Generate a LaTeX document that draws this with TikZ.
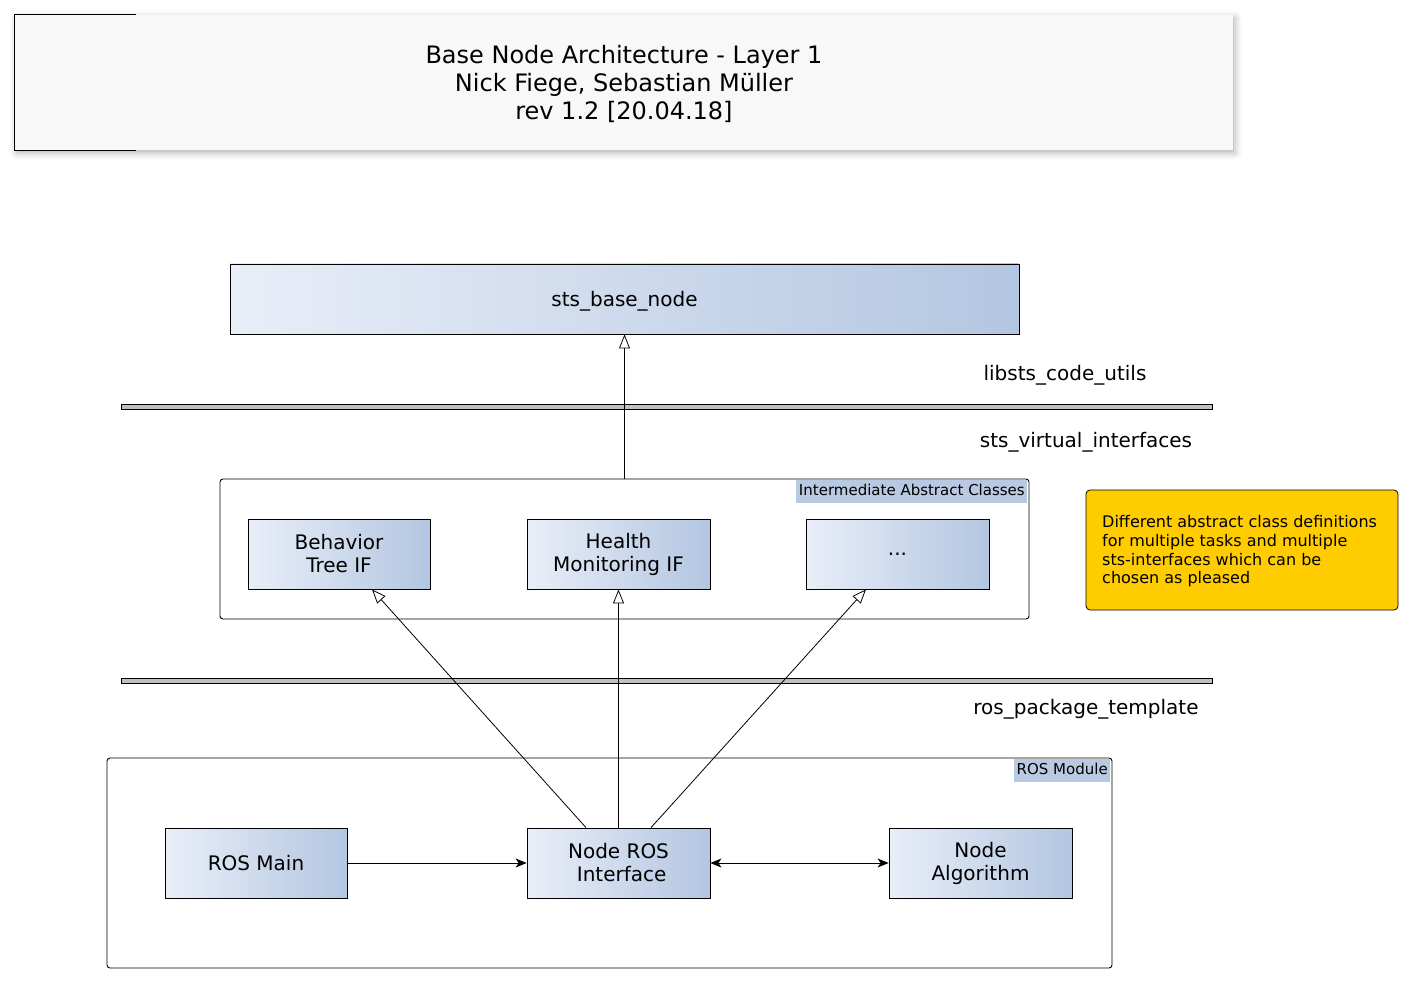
\documentclass[tikz,border=0pt]{standalone}
\usepackage{fontspec}
\setmainfont{DejaVu Sans}
\usetikzlibrary{arrows.meta,shadows.blur}
\definecolor{boxL}{HTML}{E9EEF8}
\definecolor{boxR}{HTML}{B3C6E1}
\definecolor{lbl}{HTML}{B8C9E1}
\definecolor{notefill}{HTML}{FFCC00}
\definecolor{barfill}{HTML}{C0C0C0}
\definecolor{titlefill}{HTML}{F8F8F8}
\tikzset{
 cls/.style={draw=black, line width=0.8pt, left color=boxL, right color=boxR, minimum height=70pt, align=center, font=\fontsize{20}{23}\selectfont, inner sep=0pt},
 container/.style={draw=black, line width=0.9pt, rounded corners=3pt, inner sep=0pt},
 tag/.style={fill=lbl, font=\fontsize{15}{17}\selectfont, inner xsep=2.5pt, inner ysep=4.25pt, text height=11pt, text depth=3.5pt, anchor=north east},
 layer/.style={font=\fontsize{20}{23}\selectfont, text depth=0pt},
 barline/.style={draw=black, fill=barfill, line width=0.8pt, minimum width=1091pt, minimum height=5pt, inner sep=0pt},
 inherit/.style={-{Triangle[open, length=14pt, width=11pt]}, line width=0.8pt},
 flow/.style={-{Stealth[length=11pt, width=9pt, inset=3pt]}, line width=0.8pt},
 flowboth/.style={{Stealth[length=11pt, width=9pt, inset=3pt]}-{Stealth[length=11pt, width=9pt, inset=3pt]}, line width=0.8pt},
}
\begin{document}
\begin{tikzpicture}[x=1pt, y=-1pt]
\useasboundingbox (0,0) rectangle (1414,984);
% title
\node[fill=titlefill, minimum width=1218pt, minimum height=135pt, inner sep=0pt,
  blur shadow={shadow xshift=2pt, shadow yshift=-3pt, shadow blur radius=7pt, shadow opacity=30}] (title) at (624,82.5) {};
\node[align=center, font=\fontsize{24}{28}\selectfont] (titletext) at (624,84) {Base Node Architecture - Layer 1\\Nick Fiege, Sebastian Müller\\rev 1.2 [20.04.18]};
\draw[line width=0.8pt] ([xshift=121pt]title.north west) -- (title.north west) -- (title.south west) -- ([xshift=121pt]title.south west);
% base node
\node[cls, minimum width=789pt, text depth=0pt] (base) at (624.5,299) {sts\_base\_node};
\node[layer] (lib) at (1065,373) {libsts\_code\_utils};
\node[barline] (bar1) at (666.5,406.5) {};
\node[layer] (svi) at (1086,440) {sts\_virtual\_interfaces};
% container 1
\node[container, minimum width=809pt, minimum height=140pt] (c1) at (624.5,549) {};
\node[tag] (c1tag) at ([xshift=-2pt, yshift=-1pt]c1.north east) {Intermediate Abstract Classes};
\node[cls, minimum width=182pt] (bt) at (339,554) {Behavior\\Tree IF};
\node[cls, minimum width=183pt] (hm) at (618.5,554) {Health\\Monitoring IF};
\node[cls, minimum width=183pt] (dots) at (897.5,554) {...};
% note
\node[draw=black, line width=0.8pt, fill=notefill, rounded corners=4pt, minimum width=312pt, minimum height=120pt, inner sep=0pt] (note) at (1242,550) {};
\node[anchor=west, align=left, font=\fontsize{16}{18.7}\selectfont, inner sep=0pt] (notetext) at (1102,551.5) {Different abstract class definitions\\for multiple tasks and multiple\\sts-interfaces which can be\\chosen as pleased};
% bar 2
\node[barline] (bar2) at (666.5,680.5) {};
\node[layer] (rpt) at (1086,707) {ros\_package\_template};
% container 2
\node[container, minimum width=1005pt, minimum height=210pt] (c2) at (609.5,863) {};
\node[tag] (c2tag) at ([xshift=-2pt, yshift=-1pt]c2.north east) {ROS Module};
\node[cls, minimum width=182pt] (rm) at (256,863) {ROS Main};
\node[cls, minimum width=183pt] (nri) at (618.5,863) {Node ROS\\\ Interface};
\node[cls, minimum width=183pt] (na) at (980.5,863) {Node\\Algorithm};
% connectors
\draw[inherit] (c1.north -| base.south) -- (base.south);
\draw[inherit] ([xshift=-32.5pt]nri.north) -- ([xshift=33pt]bt.south);
\draw[inherit] (nri.north) -- (hm.south);
\draw[inherit] ([xshift=32.5pt]nri.north) -- ([xshift=-31.5pt]dots.south);
\draw[flow] (rm.east) -- (rm.east -| nri.west);
\draw[flowboth] (nri.east) -- (nri.east -| na.west);
\end{tikzpicture}
\end{document}
